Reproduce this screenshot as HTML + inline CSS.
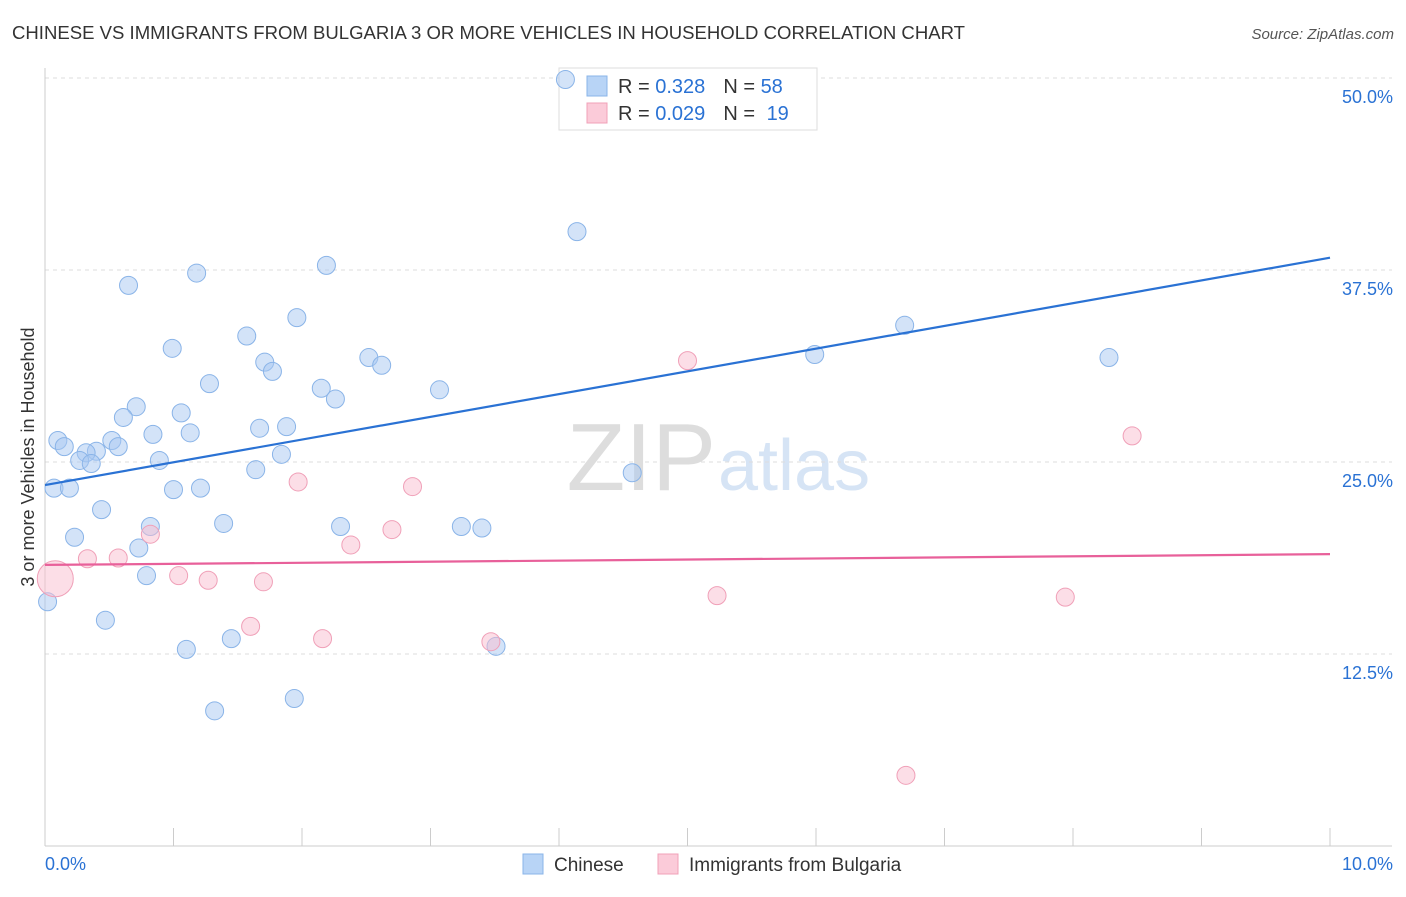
<!DOCTYPE html>
<html><head><meta charset="utf-8"><style>
body{margin:0;background:#fff;font-family:"Liberation Sans",sans-serif}
svg text{font-family:"Liberation Sans",sans-serif}
</style></head><body>
<svg id="c" width="1406" height="892" xmlns="http://www.w3.org/2000/svg">
<text x="12" y="39" font-size="18" fill="#333" textLength="953" lengthAdjust="spacingAndGlyphs">CHINESE VS IMMIGRANTS FROM BULGARIA 3 OR MORE VEHICLES IN HOUSEHOLD CORRELATION CHART</text>
<text x="1394" y="39" font-size="15" fill="#555" font-style="italic" text-anchor="end">Source: ZipAtlas.com</text>
<text x="716" y="490" font-size="96" fill="#ddd" text-anchor="end" font-family="Liberation Serif">ZIP</text>
<text x="718" y="490" font-size="72" fill="#d6e4f5">atlas</text>
<text transform="translate(34,457) rotate(-90)" font-size="18" fill="#333" text-anchor="middle">3 or more Vehicles in Household</text>
<g id="grid"></g>
<g>
<rect x="559" y="68" width="258" height="62" fill="#fff" stroke="#ddd"/>
<rect x="587" y="76" width="20" height="20" fill="#b8d4f6" stroke="#8ab4e8"/>
<text x="618" y="93" font-size="20" fill="#333">R = <tspan fill="#2a72d4">0.328</tspan><tspan dx="18">N = </tspan><tspan fill="#2a72d4">58</tspan></text>
<rect x="587" y="103" width="20" height="20" fill="#fbcbd9" stroke="#f0a0b8"/>
<text x="618" y="120" font-size="20" fill="#333">R = <tspan fill="#2a72d4">0.029</tspan><tspan dx="18">N = </tspan><tspan dx="6" fill="#2a72d4">19</tspan></text>
</g>
<g id="pts"></g><g id="lines"></g>
<g>
<rect x="523" y="854" width="20" height="20" fill="#b8d4f6" stroke="#8ab4e8"/>
<text x="554" y="871" font-size="19" fill="#333">Chinese</text>
<rect x="658" y="854" width="20" height="20" fill="#fbcbd9" stroke="#f0a0b8"/>
<text x="689" y="871" font-size="19" fill="#333">Immigrants from Bulgaria</text>
</g>
</svg>
<script>
const blueX=[4.05,4.14,0.65,1.18,2.19,1.96,1.57,0.99,1.71,1.77,2.52,2.62,1.28,2.15,2.26,3.07,0.71,0.61,1.06,0.10,0.15,0.52,0.57,0.40,0.32,0.27,0.36,0.84,1.13,1.67,1.88,0.89,1.84,1.64,4.57,0.07,0.19,1.00,1.21,0.44,1.39,0.82,2.30,3.24,3.40,0.23,0.73,0.79,0.02,0.47,1.45,1.10,3.51,1.94,1.32,5.99,6.69,8.28];
const blueY=[49.9,40.0,36.5,37.3,37.8,34.4,33.2,32.4,31.5,30.9,31.8,31.3,30.1,29.8,29.1,29.7,28.6,27.9,28.2,26.4,26.0,26.4,26.0,25.7,25.6,25.1,24.9,26.8,26.9,27.2,27.3,25.1,25.5,24.5,24.3,23.3,23.3,23.2,23.3,21.9,21.0,20.8,20.8,20.8,20.7,20.1,19.4,17.6,15.9,14.7,13.5,12.8,13.0,9.6,8.8,32.0,33.9,31.8];
const pinkX=[0.08,0.33,0.57,0.82,1.04,1.27,1.70,1.60,2.16,1.97,2.86,2.38,2.70,3.47,5.00,5.23,7.94,8.46,6.70];
const pinkY=[17.4,18.7,18.75,20.3,17.6,17.3,17.2,14.3,13.5,23.7,23.4,19.6,20.6,13.3,31.6,16.3,16.2,26.7,4.6];
const pinkR=[18,9,9,9,9,9,9,9,9,9,9,9,9,9,9,9,9,9,9];
const blueTrend=[23.5,38.3];
const pinkTrend=[18.3,19.0];
const yTicks=[12.5,25,37.5,50];
const xTickLabels=["0.0%","10.0%"];
const NS="http://www.w3.org/2000/svg";
const sx=v=>45+v*128.5, sy=v=>846-v*15.36;
function mk(t,a,p){const e=document.createElementNS(NS,t);for(const k in a)e.setAttribute(k,a[k]);p.appendChild(e);return e;}
const g=document.getElementById('grid');
yTicks.forEach(v=>{const l=mk('line',{x1:45,x2:1392,y1:sy(v),y2:sy(v),stroke:'#ddd','stroke-dasharray':'4,4'},g);


const t=mk('text',{x:1393,y:sy(v)+25,'font-size':18,fill:'#2a72d4','text-anchor':'end'},g);t.textContent=v.toFixed(1)+'%';

});
const ax=mk('line',{x1:45,x2:45,y1:68,y2:846,stroke:'#ccc'},g);


const bx=mk('line',{x1:45,x2:1392,y1:846,y2:846,stroke:'#ccc'},g);


for(let i=0;i<=10;i++){const t=mk('line',{x1:sx(i),x2:sx(i),y1:828,y2:846,stroke:'#ccc'},g);

}
[[0,'start',45],[10,'end',1393]].forEach((d,i)=>{const t=mk('text',{x:d[2],y:870,'font-size':18,fill:'#2a72d4','text-anchor':d[1]},g);t.textContent=xTickLabels[i];

});
const p=document.getElementById('pts');
blueX.forEach((x,i)=>{const c=mk('circle',{cx:sx(x),cy:sy(blueY[i]),r:9,fill:'rgba(168,200,242,0.5)',stroke:'#8ab4e8','stroke-width':1},p);

});
pinkX.forEach((x,i)=>{const c=mk('circle',{cx:sx(x),cy:sy(pinkY[i]),r:pinkR[i],fill:'rgba(249,190,208,0.5)',stroke:'#f0a0b8','stroke-width':1},p);

});
const L=document.getElementById('lines');
const b=mk('line',{x1:sx(0),x2:sx(10),y1:sy(blueTrend[0]),y2:sy(blueTrend[1]),stroke:'#2a72d4','stroke-width':2.2},L);


const pk=mk('line',{x1:sx(0),x2:sx(10),y1:sy(pinkTrend[0]),y2:sy(pinkTrend[1]),stroke:'#e8609a','stroke-width':2.2},L);


</script>
</body></html>
